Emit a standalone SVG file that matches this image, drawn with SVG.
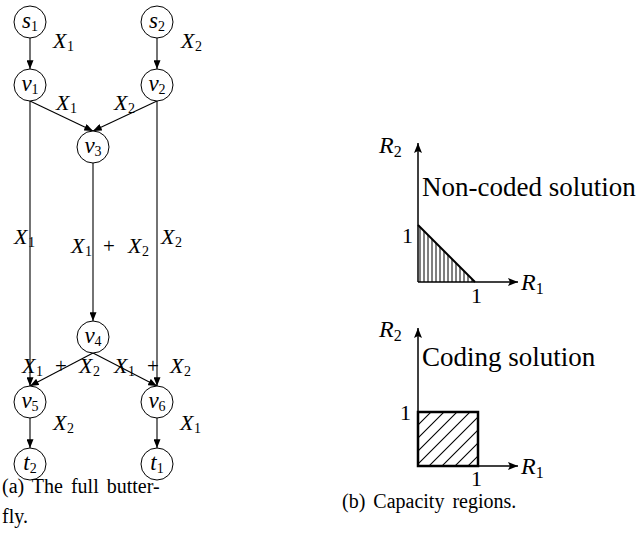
<svg xmlns="http://www.w3.org/2000/svg" width="637" height="533" viewBox="0 0 637 533">
<style>
.nd{fill:#fff;stroke:#000;stroke-width:1}
.e{stroke:#000;stroke-width:1.1;fill:none}
.ax{stroke:#000;stroke-width:1.5;fill:none}
text{font-family:'Liberation Serif','Times New Roman','DejaVu Serif',serif;fill:#000}
.m{font-style:italic;font-size:22px}
.nl{font-style:italic;font-size:23px;text-anchor:middle}
.sub{font-style:normal;font-size:14px}
.pl{font-style:normal;font-size:21px}
.r{font-size:20px}
.big{font-size:27px}
.rm{font-style:italic;font-size:24px}
.rs{font-style:normal;font-size:16px}
.tk{font-size:22px}
</style>
<defs>
<marker id="ah" viewBox="0 0 10 8" refX="10" refY="4" markerWidth="9" markerHeight="7" markerUnits="userSpaceOnUse" orient="auto">
<path d="M0,0 L10,4 L0,8 z" fill="#000"/>
</marker>
<marker id="axh" viewBox="0 0 10 8" refX="10" refY="4" markerWidth="11" markerHeight="8" markerUnits="userSpaceOnUse" orient="auto">
<path d="M0,0 L10,4 L0,8 L2,4 z" fill="#000"/>
</marker>
<pattern id="vh" patternUnits="userSpaceOnUse" x="418" y="0" width="4" height="10">
<line x1="2" y1="0" x2="2" y2="10" stroke="#000" stroke-width="1"/>
</pattern>
<pattern id="dh" patternUnits="userSpaceOnUse" x="418" y="412" width="13" height="13">
<path d="M0,13 L13,0 M-3,3 L3,-3 M10,16 L16,10" stroke="#000" stroke-width="1.1"/>
</pattern>
</defs>

<g id="connectors">
<line class="e" x1="30" y1="38" x2="30" y2="69" marker-end="url(#ah)"/>
<line class="e" x1="157" y1="38" x2="157" y2="69" marker-end="url(#ah)"/>
<line class="e" x1="30" y1="101" x2="93" y2="131" marker-end="url(#ah)"/>
<line class="e" x1="157" y1="101" x2="93" y2="131" marker-end="url(#ah)"/>
<line class="e" x1="30" y1="101" x2="30" y2="386" marker-end="url(#ah)"/>
<line class="e" x1="157" y1="101" x2="157" y2="386" marker-end="url(#ah)"/>
<line class="e" x1="93" y1="163" x2="93" y2="321" marker-end="url(#ah)"/>
<line class="e" x1="93" y1="353" x2="30" y2="386" marker-end="url(#ah)"/>
<line class="e" x1="93" y1="353" x2="157" y2="386" marker-end="url(#ah)"/>
<line class="e" x1="30" y1="418" x2="30" y2="448" marker-end="url(#ah)"/>
<line class="e" x1="157" y1="418" x2="157" y2="448" marker-end="url(#ah)"/>
<text class="m" x="53" y="48">X<tspan class="sub" x="67" dy="3">1</tspan></text>
<text class="m" x="181" y="48">X<tspan class="sub" x="195" dy="3">2</tspan></text>
<text class="m" x="56" y="110">X<tspan class="sub" x="70" dy="3">1</tspan></text>
<text class="m" x="114" y="110">X<tspan class="sub" x="128" dy="3">2</tspan></text>
<text class="m" x="14" y="244">X<tspan class="sub" x="28" dy="3">1</tspan></text>
<text class="m" x="161" y="244">X<tspan class="sub" x="175" dy="3">2</tspan></text>
<text class="m" x="71" y="253">X<tspan class="sub" x="85" dy="3">1</tspan><tspan class="pl" x="103" dy="-3">+</tspan><tspan x="128">X</tspan><tspan class="sub" x="142" dy="3">2</tspan></text>
<text class="m" x="22" y="373">X<tspan class="sub" x="36" dy="3">1</tspan><tspan class="pl" x="55" dy="-3">+</tspan><tspan x="79">X</tspan><tspan class="sub" x="93" dy="3">2</tspan></text>
<text class="m" x="114" y="373">X<tspan class="sub" x="128" dy="3">1</tspan><tspan class="pl" x="147" dy="-3">+</tspan><tspan x="170">X</tspan><tspan class="sub" x="184" dy="3">2</tspan></text>
<text class="m" x="53" y="430">X<tspan class="sub" x="67" dy="3">2</tspan></text>
<text class="m" x="180" y="430">X<tspan class="sub" x="194" dy="3">1</tspan></text>
</g>

<g id="s1"><circle class="nd" cx="30" cy="22" r="16"/><text class="nl" x="30" y="28">s<tspan class="sub" dy="3">1</tspan></text></g>
<g id="s2"><circle class="nd" cx="157" cy="22" r="16"/><text class="nl" x="157" y="28">s<tspan class="sub" dy="3">2</tspan></text></g>
<g id="v1"><circle class="nd" cx="30" cy="85" r="16"/><text class="nl" x="30" y="91">v<tspan class="sub" dy="3">1</tspan></text></g>
<g id="v2"><circle class="nd" cx="157" cy="85" r="16"/><text class="nl" x="157" y="91">v<tspan class="sub" dy="3">2</tspan></text></g>
<g id="v3"><circle class="nd" cx="93" cy="147" r="16"/><text class="nl" x="93" y="153">v<tspan class="sub" dy="3">3</tspan></text></g>
<g id="v4"><circle class="nd" cx="93" cy="337" r="16"/><text class="nl" x="93" y="343">v<tspan class="sub" dy="3">4</tspan></text></g>
<g id="v5"><circle class="nd" cx="30" cy="402" r="16"/><text class="nl" x="30" y="408">v<tspan class="sub" dy="3">5</tspan></text></g>
<g id="v6"><circle class="nd" cx="157" cy="402" r="16"/><text class="nl" x="157" y="408">v<tspan class="sub" dy="3">6</tspan></text></g>
<g id="t2"><circle class="nd" cx="30" cy="464" r="16"/><text class="nl" x="30" y="470">t<tspan class="sub" dy="3">2</tspan></text></g>
<g id="t1"><circle class="nd" cx="157" cy="464" r="16"/><text class="nl" x="157" y="470">t<tspan class="sub" dy="3">1</tspan></text></g>

<g id="caption-a">
<text class="r" x="2" y="493" word-spacing="3">(a) The full butter-</text>
<text class="r" x="2" y="523">fly.</text>
</g>

<g id="plot-noncoded">
<polygon points="418,225 475,282 418,282" fill="url(#vh)"/>
<line x1="418" y1="225" x2="475" y2="282" stroke="#000" stroke-width="2"/>
<line class="ax" x1="418" y1="282" x2="418" y2="143" marker-end="url(#axh)"/>
<line class="ax" x1="418" y1="282" x2="518" y2="282" marker-end="url(#axh)"/>
<text class="rm" x="379" y="153">R<tspan class="rs" dy="4">2</tspan></text>
<text class="rm" x="521" y="290">R<tspan class="rs" dy="4">1</tspan></text>
<text class="tk" x="402" y="243">1</text>
<text class="tk" x="471" y="303">1</text>
<text class="big" x="422" y="196">Non-coded solution</text>
</g>

<g id="plot-coding">
<rect x="418" y="412" width="60" height="54" fill="url(#dh)" stroke="#000" stroke-width="2.5"/>
<line class="ax" x1="418" y1="466" x2="418" y2="328" marker-end="url(#axh)"/>
<line class="ax" x1="418" y1="466" x2="518" y2="466" marker-end="url(#axh)"/>
<text class="rm" x="379" y="337">R<tspan class="rs" dy="4">2</tspan></text>
<text class="rm" x="521" y="474">R<tspan class="rs" dy="4">1</tspan></text>
<text class="tk" x="400" y="420">1</text>
<text class="tk" x="471" y="486">1</text>
<text class="big" x="422" y="366">Coding solution</text>
</g>

<g id="caption-b">
<text class="r" x="342" y="508" word-spacing="3">(b) Capacity regions.</text>
</g>
</svg>
